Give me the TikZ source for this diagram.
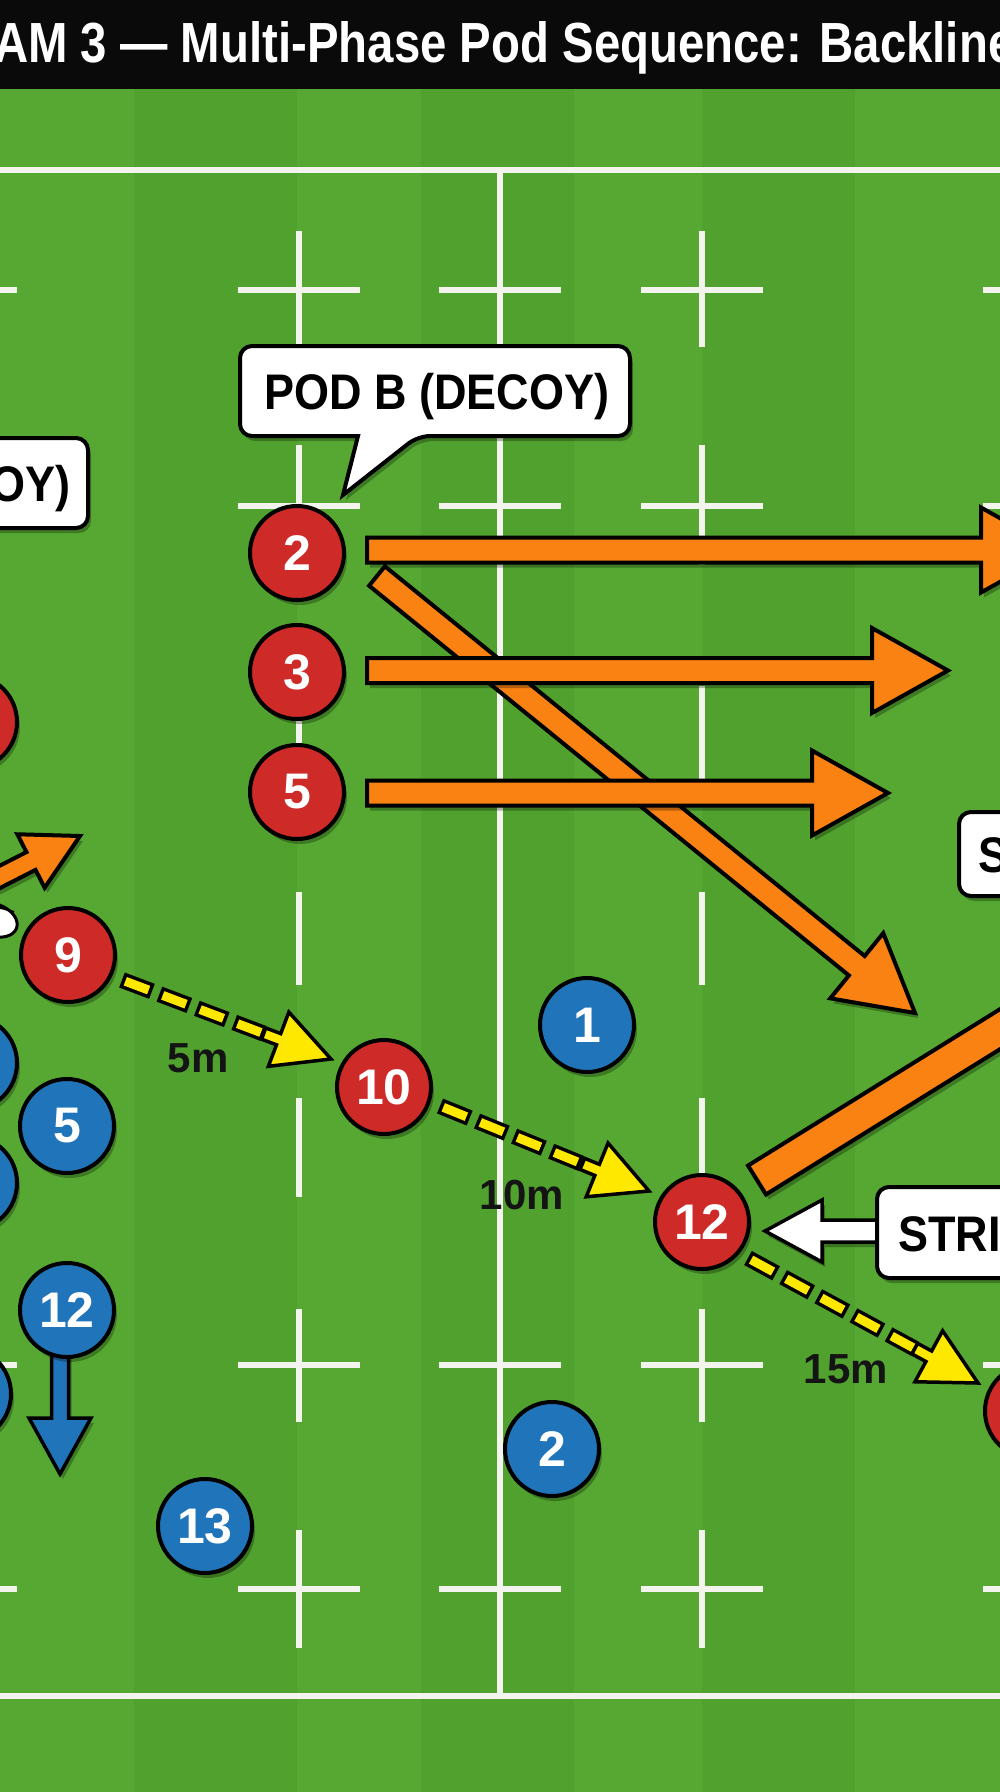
\documentclass[tikz,border=0pt]{standalone}
\usepackage{fontspec}
\setmainfont{Liberation Sans}
\usepackage{graphicx}
\usetikzlibrary{calc}
\definecolor{fieldA}{RGB}{86,168,50}
\definecolor{fieldB}{RGB}{81,161,46}
\definecolor{lineC}{RGB}{244,244,238}
\definecolor{redC}{RGB}{206,42,40}
\definecolor{blueC}{RGB}{32,116,186}
\definecolor{orangeC}{RGB}{250,130,18}
\definecolor{yellowC}{RGB}{255,232,0}
\newcommand{\lbl}[1]{\scalebox{0.9}[1]{\fontsize{50}{50}\selectfont\bfseries #1}}
\newcommand{\pnum}[1]{{\fontsize{50}{50}\selectfont\bfseries #1}}
% #1 style, #2 start, #3 tip, #4 shaft half width, #5 head half width, #6 head length
\newcommand{\fatarrow}[6]{%
  \coordinate (hb) at ($(#3)!#6!(#2)$);
  \path[#1] ($(#2)!#4!90:(#3)$) -- ($(hb)!#4!90:(#3)$) -- ($(hb)!#5!90:(#3)$) -- (#3)
    -- ($(hb)!#5!-90:(#3)$) -- ($(hb)!#4!-90:(#3)$) -- ($(#2)!#4!-90:(#3)$) -- cycle;}
\newcommand{\passline}[2]{%
  \coordinate (sb) at ($(#2)!72pt!(#1)$);
  \draw[line width=16pt, black, dash pattern=on 32pt off 8pt] (#1) -- (sb);
  \draw[line width=9pt, yellowC, dash pattern=on 25pt off 15pt, dash phase=36.5pt] (#1) -- (sb);
  \fatarrow{yhead}{sb}{#2}{6pt}{29pt}{56pt}}
\tikzset{
  shad/.style={preaction={fill=black, fill opacity=0.28, draw=none, transform canvas={shift={(3pt,-5pt)}}}},
  fieldline/.style={draw=lineC, line width=6.5pt},
  hash/.style={draw=lineC, line width=6pt},
  orangearr/.style={fill=orangeC, draw=black, line width=4pt, line join=miter, shad},
  bluearr/.style={fill=blueC, draw=black, line width=3.5pt, line join=miter, shad},
  whitearr/.style={fill=white, draw=black, line width=3.5pt, line join=miter, shad},
  yhead/.style={fill=yellowC, draw=black, line width=3.5pt, line join=miter},
  pred/.style={circle, minimum size=94pt, inner sep=0pt, fill=redC, draw=black, line width=4pt, text=white, shad},
  pblue/.style={circle, minimum size=94pt, inner sep=0pt, fill=blueC, draw=black, line width=4pt, text=white, shad},
  labbox/.style={fill=white, draw=black, line width=4pt, rounded corners=12pt, shad},
  labtext/.style={inner sep=0pt, text=black},
  dist/.style={inner sep=0pt, text=black!92, font=\fontsize{42}{42}\selectfont\bfseries}
}
\begin{document}
\begin{tikzpicture}[x=1pt,y=-1pt]
\useasboundingbox (0,0) rectangle (1000,1792);
\clip (0,0) rectangle (1000,1792);
% field
\fill[fieldA] (0,0) rectangle (1000,1792);
\foreach \a/\b in {134/297,421/574,702/855} \fill[fieldB] (\a,89) rectangle (\b,1792);
% title bar
\fill[black!96] (0,0) rectangle (1000,89);
\node[anchor=base west, inner sep=0pt, text=white] (title) at (-6,62)
  {\resizebox{1020pt}{41pt}{\bfseries AM 3 — Multi-Phase Pod Sequence: Backline}};
% field lines
\draw[fieldline] (0,170) -- (1000,170);
\draw[fieldline] (0,1696) -- (1000,1696);
\draw[fieldline] (500,170) -- (500,1696);
\foreach \cx in {299,702}{
  \foreach \a/\b in {231/347,445/565,686/780,892/985,1098/1197,1309/1422,1530/1648}
    \draw[hash] (\cx,\a) -- (\cx,\b);
}
\foreach \cy in {290,506,1365,1589}{
  \foreach \cx in {-44,299,500,702,1044}
    \draw[hash] ({\cx-61},\cy) -- ({\cx+61},\cy);
}
% orange runs
\coordinate (ods) at (377,576); \coordinate (odt) at (915,1013);
\fatarrow{orangearr}{ods}{odt}{12.5pt}{42pt}{75pt}
\coordinate (o1s) at (367,550); \coordinate (o1t) at (1057,550);
\fatarrow{orangearr}{o1s}{o1t}{12.5pt}{42.5pt}{76pt}
\coordinate (o2s) at (367,670.5); \coordinate (o2t) at (948,670.5);
\fatarrow{orangearr}{o2s}{o2t}{12.5pt}{42.5pt}{76pt}
\coordinate (o3s) at (367,793); \coordinate (o3t) at (888,793);
\fatarrow{orangearr}{o3s}{o3t}{12.5pt}{42.5pt}{76pt}
\coordinate (obs) at (757,1180); \coordinate (obt) at (1300,843);
\fatarrow{orangearr}{obs}{obt}{17pt}{50pt}{80pt}
\coordinate (ols) at (-20,887); \coordinate (olt) at (80,836);
\fatarrow{orangearr}{ols}{olt}{10pt}{30pt}{55pt}
% blue arrow
\coordinate (bds) at (60,1350); \coordinate (bdt) at (60,1474);
\fatarrow{bluearr}{bds}{bdt}{8.5pt}{31pt}{56pt}
% ball
\draw[fill=white, line width=3pt, rotate around={-20:(-6,920)}] (-6,920) ellipse (24pt and 16pt);
\draw[line width=2pt] (-14,914) .. controls (-4,906) .. (14,912);
% passes
\coordinate (p1s) at (122,980); \coordinate (p1t) at (331,1059);
\passline{p1s}{p1t}
\coordinate (p2s) at (440,1106); \coordinate (p2t) at (649,1191);
\passline{p2s}{p2t}
\coordinate (p3s) at (748,1258); \coordinate (p3t) at (978,1383);
\passline{p3s}{p3t}
% distance labels
\node[dist] (d5) at (198,1058) {5m};
\node[dist] (d10) at (522,1195) {10m};
\node[dist] (d15) at (846,1369) {15m};
% strike pointer
\coordinate (sps) at (892,1231); \coordinate (spt) at (765,1231);
\fatarrow{whitearr}{sps}{spt}{11pt}{31pt}{57pt}
% label boxes
\path[labbox] (-40,438) rectangle (88,528);
\path[labbox] (959,812) rectangle (1040,896);
\path[labbox] (877,1187) rectangle (1040,1278);
\path[fill=white, draw=black, line width=4pt, line join=miter, shad]
  (435,346) [rounded corners=12pt] -- (630,346) -- (630,436) -- (418,436)
  [sharp corners] -- (343,495) -- (358,436)
  [rounded corners=12pt] -- (240,436) -- (240,346) -- cycle;
\node[labtext, anchor=base] (podb) at (437,409) {\lbl{POD B (DECOY)}};
\node[labtext, anchor=base east] (poda) at (71,501) {\lbl{OY)}};
\node[labtext, anchor=base west] (podc) at (978,872) {\lbl{S}};
\node[labtext, anchor=base west] (strike) at (898,1251) {\lbl{STRI}};
% players
\node[pred] (r2) at (297,553) {\pnum{2}};
\node[pred] (r3) at (297,672) {\pnum{3}};
\node[pred] (r5) at (297,792) {\pnum{5}};
\node[pred] (rL) at (-30,722) {};
\node[pred] (r9) at (68,955) {\pnum{9}};
\node[pred] (r10) at (384,1087) {\pnum{10}};
\node[pred] (r12) at (702,1222) {\pnum{12}};
\node[pred] (rR) at (1032,1411) {};
\node[pblue] (b1) at (587,1025) {\pnum{1}};
\node[pblue] (bL1) at (-30,1063) {};
\node[pblue] (b5) at (67,1126) {\pnum{5}};
\node[pblue] (bL2) at (-30,1183) {};
\node[pblue] (b12) at (67,1310) {\pnum{12}};
\node[pblue] (bL3) at (-36,1394) {};
\node[pblue] (b2) at (552,1449) {\pnum{2}};
\node[pblue] (b13) at (205,1526) {\pnum{13}};
\end{tikzpicture}
\end{document}
